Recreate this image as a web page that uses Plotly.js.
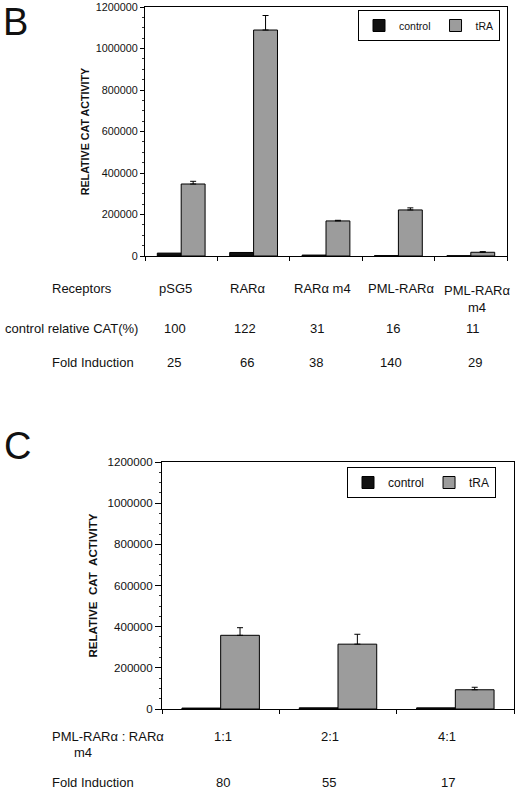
<!DOCTYPE html>
<html>
<head>
<meta charset="utf-8">
<script src="https://cdn.plot.ly/plotly-3.0.1.min.js"></script>
<style>
  html, body { margin: 0; padding: 0; background: #fff; }
  #chart { width: 520px; height: 792px; }
</style>
</head>
<body>
<div id="chart"></div>
<script>
// ---------- Data: panel B ----------
const categoriesB = ["pSG5", "RARα", "RARα m4", "PML-RARα", "PML-RARα m4"];
const headerLabelsB = ["pSG5", "RARα", "RARα m4", "PML-RARα", "PML-RARα<br>m4"];
const controlB = [14000, 17000, 4500, 2000, 1500];
const tRAB = [347000, 1089000, 169000, 222000, 18000];
const tRAErrB = [13000, 70000, 3000, 10000, 3000];
const controlPctB = ["100", "122", "31", "16", "11"];
const foldB = ["25", "66", "38", "140", "29"];

// ---------- Data: panel C ----------
const categoriesC = ["1:1", "2:1", "4:1"];
const controlC = [4500, 5700, 5500];
const tRAC = [358000, 315000, 93500];
const tRAErrC = [37000, 48000, 12000];
const foldC = ["80", "55", "17"];

const yTicks = [0, 200000, 400000, 600000, 800000, 1000000, 1200000];

// ---------- Layout helpers (pixel -> paper) ----------
const W = 520, H = 792;
const PX = x => x / W;
const PY = y => 1 - y / H;
const FONT = "Liberation Sans, Arial, Helvetica, sans-serif";
const INK = "#111";

const zeros = a => a.map(() => 0);

function ctrlTrace(cats, vals, xa, ya, leg) {
  return {
    type: "bar", name: "control", x: cats, y: vals, xaxis: xa, yaxis: ya, legend: leg,
    marker: { color: "#111", line: { color: "#000", width: 1 } },
    hoverinfo: "skip"
  };
}
function traTrace(cats, vals, err, xa, ya, leg) {
  return {
    type: "bar", name: "tRA", x: cats, y: vals, xaxis: xa, yaxis: ya, legend: leg,
    marker: { color: "#9c9c9c", line: { color: "#000", width: 1 } },
    error_y: { type: "data", array: err, arrayminus: zeros(err), symmetric: false,
               color: "#000", thickness: 1, width: 3 },
    hoverinfo: "skip"
  };
}

const data = [
  ctrlTrace(categoriesB, controlB, "x", "y", "legend"),
  traTrace(categoriesB, tRAB, tRAErrB, "x", "y", "legend"),
  ctrlTrace(categoriesC, controlC, "x2", "y2", "legend2"),
  traTrace(categoriesC, tRAC, tRAErrC, "x2", "y2", "legend2")
];

function xAxis(domain, anchor) {
  return {
    domain: domain, anchor: anchor, type: "category",
    showline: true, linecolor: "#000", linewidth: 1, mirror: true,
    ticks: "outside", tickson: "boundaries", ticklen: 4, tickcolor: "#000", tickwidth: 1,
    showticklabels: false, showgrid: false, zeroline: false, fixedrange: true
  };
}
function yAxis(domain, anchor, titleText, tfs, lfs, standoff, ticklen) {
  return {
    domain: domain, anchor: anchor, range: [0, 1200000],
    tickvals: yTicks, ticktext: yTicks.map(String),
    showline: true, linecolor: "#000", linewidth: 1, mirror: true,
    ticks: "outside", ticklen: ticklen, tickcolor: "#000", tickwidth: 1,
    minor: { dtick: 50000, ticks: "outside", ticklen: 2, tickcolor: "#333", tickwidth: 1, showgrid: false },
    tickfont: { family: FONT, size: lfs, color: INK },
    showgrid: false, zeroline: false, fixedrange: true, automargin: false,
    title: { text: titleText, font: { family: FONT, size: tfs, color: INK, weight: "bold" }, standoff: standoff }
  };
}

function note(text, x, y, size, opts) {
  return Object.assign({
    text: text, xref: "paper", yref: "paper", x: PX(x), y: PY(y),
    xanchor: "center", yanchor: "middle", showarrow: false,
    font: { family: FONT, size: size, color: INK }
  }, opts || {});
}

const annotations = [];
// Panel letters
annotations.push(note("B", 2, 0, 38, { xanchor: "left", yanchor: "top", borderpad: 0 }));
annotations.push(note("C", 2, 446, 38, { xanchor: "left" }));

// Panel B table
const colHeadXB = [175, 247, 322, 401, 477];
const colPctXB = [175, 245, 317, 393, 473];
const colFoldXB = [174, 247, 316, 391, 475];
annotations.push(note("Receptors", 50, 289, 13, { xanchor: "left" }));
annotations.push(note("control relative CAT(%)", 3, 328, 13, { xanchor: "left" }));
annotations.push(note("Fold Induction", 50, 362, 13, { xanchor: "left" }));
headerLabelsB.forEach((t, i) => {
  const multi = t.indexOf("<br>") >= 0;
  annotations.push(note(t, colHeadXB[i], 289, 13, multi ? { yanchor: "top", y: PY(281) } : {}));
});
controlPctB.forEach((t, i) => annotations.push(note(t, colPctXB[i], 328, 13)));
foldB.forEach((t, i) => annotations.push(note(t, colFoldXB[i], 362, 13)));

// Panel C table
const colHeadXC = [223, 330, 447];
const colFoldXC = [223, 329, 448];
annotations.push(note("PML-RARα : RARα", 50, 736, 13, { xanchor: "left" }));
annotations.push(note("m4", 83, 752, 13));
annotations.push(note("Fold Induction", 50, 782, 13, { xanchor: "left" }));
categoriesC.forEach((t, i) => annotations.push(note(t, colHeadXC[i], 736, 13)));
foldC.forEach((t, i) => annotations.push(note(t, colFoldXC[i], 782, 13)));

const legendCommon = {
  orientation: "h", xanchor: "left", yanchor: "top",
  bgcolor: "#fff", bordercolor: "#000", borderwidth: 1,
  traceorder: "normal", itemclick: false, itemdoubleclick: false
};

const layout = {
  width: W, height: H,
  margin: { l: 0, r: 0, t: 0, b: 0 },
  paper_bgcolor: "#fff", plot_bgcolor: "#fff",
  font: { family: FONT, color: INK },
  barmode: "group", bargap: 0.34, bargroupgap: 0,
  xaxis: xAxis([PX(145), PX(507)], "y"),
  yaxis: yAxis([PY(256), PY(7)], "x", "RELATIVE CAT ACTIVITY", 10.7, 10.8, 4, 4),
  xaxis2: xAxis([PX(162), PX(514)], "y2"),
  yaxis2: yAxis([PY(709), PY(462)], "x2", "RELATIVE\u00a0\u00a0CAT\u00a0\u00a0ACTIVITY", 11.5, 11.6, 7, 6),
  legend: Object.assign({}, legendCommon, { x: PX(358), y: PY(10), font: { family: FONT, size: 10.5, color: INK } }),
  legend2: Object.assign({}, legendCommon, { x: PX(347), y: PY(467), font: { family: FONT, size: 12, color: INK } }),
  annotations: annotations,
  showlegend: true
};

Plotly.newPlot("chart", data, layout, { staticPlot: true, displayModeBar: false });
</script>
</body>
</html>
